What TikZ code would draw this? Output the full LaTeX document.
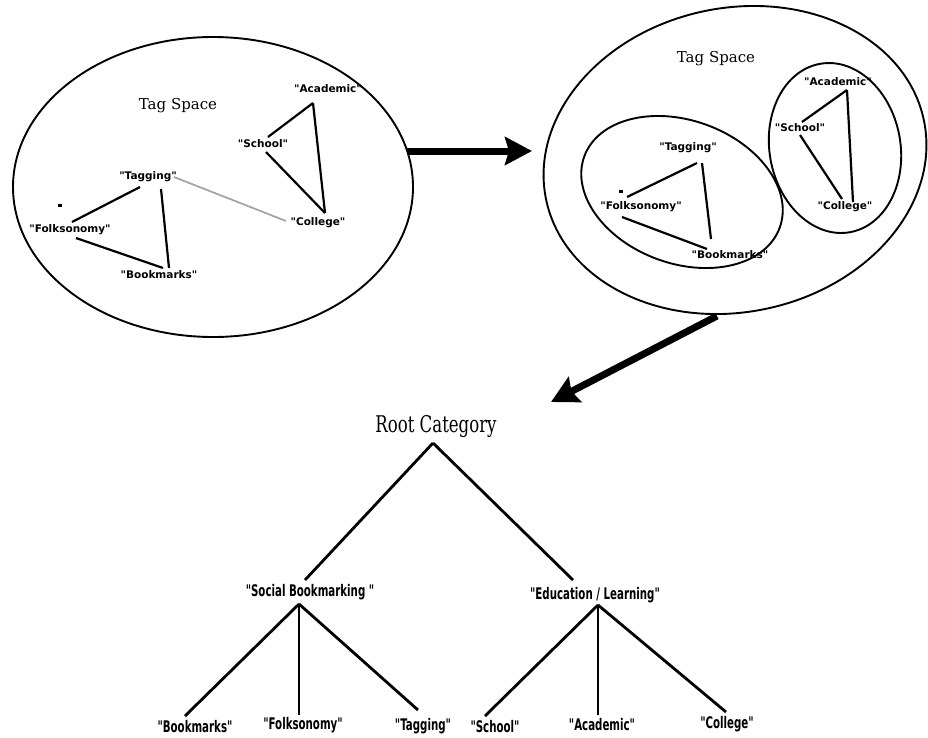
\documentclass[tikz,border=0pt]{standalone}
\usepackage{fontspec}
\usetikzlibrary{calc,arrows.meta,shapes.geometric}
\newfontfamily\taglabelfont{DejaVu Sans}
\newfontfamily\spacefont{DejaVu Serif}
\newfontfamily\rootfont{DejaVu Serif}[FakeStretch=0.72]
\newfontfamily\treefont{DejaVu Sans}[FakeStretch=0.64]
\begin{document}
\begin{tikzpicture}[x=1pt,y=-1pt,
  space/.style={draw,ellipse,line width=1.9pt,inner sep=0pt,minimum width=#1},
  tagname/.style={inner sep=1pt,font=\taglabelfont\bfseries\fontsize{10.5}{12}\selectfont},
  spacetitle/.style={inner sep=1pt,font=\spacefont\fontsize{15}{18}\selectfont},
  treename/.style={inner sep=1pt,font=\treefont\bfseries\fontsize{16}{19}\selectfont},
  rootname/.style={inner sep=1pt,font=\rootfont\fontsize{23}{27}\selectfont},
  link/.style={line width=2.2pt},
  weaklink/.style={line width=1.8pt,draw=gray!75,dash pattern=on 1.5pt off 0.4pt},
  branch/.style={line width=2.8pt},
  bigarrow/.style={line width=7pt,-{Stealth[length=27pt,width=28pt,inset=4pt]}},
  stray/.style={fill=black}]
\useasboundingbox (0,0) rectangle (928,737);

% ---------- flat tag space ----------
\node[space=400pt,minimum height=300pt] (lsp) at (213,187) {};
\node[spacetitle] (ltitle) at (178,106) {Tag Space};
\node[tagname] (l-acad)   at (328,89)  {"Academic"};
\node[tagname] (l-school) at (263,144) {"School"};
\node[tagname] (l-coll)   at (318,223) {"College"};
\node[tagname] (l-tag)    at (148,177) {"Tagging"};
\node[tagname] (l-folk)   at (70,230)  {"Folksonomy"};
\node[tagname] (l-book)   at (159,275) {"Bookmarks"};
\fill[stray] (58,204) rectangle (62,207);

\draw[link] ($(l-acad)+(-15,14)$) -- ($(l-school)+(5,-7)$);
\draw[link] ($(l-acad)+(-15,14)$) -- ($(l-coll)+(7,-10)$);
\draw[link] ($(l-school)+(3,8)$) -- ($(l-coll)+(7,-10)$);
\draw[link] ($(l-tag)+(-8,10)$) -- ($(l-folk)+(2,-8)$);
\draw[link] ($(l-tag)+(13,12)$) -- ($(l-book)+(10,-7)$);
\draw[link] ($(l-folk)+(6,8)$) -- ($(l-book)+(4,-7)$);
\draw[weaklink] ($(l-tag)+(26,0)$) -- ($(l-coll)+(-32,-2)$);

% ---------- clustered tag space ----------
\node[space=386pt,minimum height=304pt,rotate=12] (rsp) at (735,160) {};
\node[spacetitle] (rtitle) at (716,59) {Tag Space};
\node[space=208pt,minimum height=143pt,rotate=-20] (c-social) at (682,192) {};
\node[space=131pt,minimum height=171pt,rotate=10] (c-edu) at (835,148) {};

\node[tagname] (r-tag)    at (688,148) {"Tagging"};
\node[tagname] (r-folk)   at (641,207) {"Folksonomy"};
\node[tagname] (r-book)   at (730,255) {"Bookmarks"};
\node[tagname] (r-acad)   at (838,82)  {"Academic"};
\node[tagname] (r-school) at (800,128) {"School"};
\node[tagname] (r-coll)   at (845,207) {"College"};
\fill[stray] (619,190) rectangle (623,193);

\draw[link] ($(r-tag)+(9,15)$) -- ($(r-folk)+(-14,-10)$);
\draw[link] ($(r-tag)+(14,15)$) -- ($(r-book)+(-19,-16)$);
\draw[link] ($(r-folk)+(-19,10)$) -- ($(r-book)+(-23,-6)$);
\draw[link] ($(r-acad)+(9,8)$) -- ($(r-school)+(2,-6)$);
\draw[link] ($(r-acad)+(9,8)$) -- ($(r-coll)+(8,-5)$);
\draw[link] ($(r-school)+(0,7)$) -- ($(r-coll)+(-3,-8)$);

% ---------- transitions ----------
\draw[bigarrow] (407,151) -- (532,151);
\coordinate (tree-in) at (551,402);
\draw[bigarrow] (717,316) -- (tree-in);

% ---------- category tree ----------
\node[rootname] (root) at (436,427) {Root Category};
\node[treename] (social) at (310,592) {"Social Bookmarking "};
\node[treename] (edu)    at (595,595) {"Education / Learning"};
\node[treename] (t-book)   at (195,727) {"Bookmarks"};
\node[treename] (t-folk)   at (303,725) {"Folksonomy"};
\node[treename] (t-tag)    at (423,726) {"Tagging"};
\node[treename] (t-school) at (495,727) {"School"};
\node[treename] (t-acad)   at (602,725) {"Academic"};
\node[treename] (t-coll)   at (727,724) {"College"};

\draw[branch] ($(root)+(-3,16)$) -- ($(social)+(-5,-12)$);
\draw[branch] ($(root)+(-3,16)$) -- ($(edu)+(-22,-15)$);
\draw[branch] ($(social)+(-11,12)$) -- ($(t-book)+(-10,-11)$);
\draw[branch] ($(social)+(-11,12)$) -- ($(t-folk)+(-4,-10)$);
\draw[branch] ($(social)+(-11,12)$) -- ($(t-tag)+(-5,-16)$);
\draw[branch] ($(edu)+(3,10)$) -- ($(t-school)+(-10,-11)$);
\draw[branch] ($(edu)+(3,10)$) -- ($(t-acad)+(-4,-10)$);
\draw[branch] ($(edu)+(3,10)$) -- ($(t-coll)+(-1,-12)$);
\end{tikzpicture}
\end{document}
